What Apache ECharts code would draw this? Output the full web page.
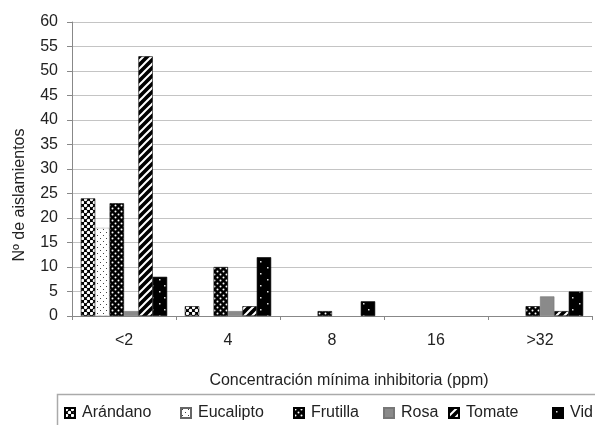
<!DOCTYPE html>
<html>
<head>
<meta charset="utf-8">
<script src="https://cdn.jsdelivr.net/npm/echarts@6/dist/echarts.min.js"></script>
<style>html,body{margin:0;padding:0;background:#fff}#c{width:595px;height:425px}</style>
</head>
<body>
<div id="c"></div>
<script>
const categories = ['<2', '4', '8', '16', '>32'];
const seriesNames = ['Arándano', 'Eucalipto', 'Frutilla', 'Rosa', 'Tomate', 'Vid'];
const arandano = [24, 2, 0, 0, 0];
const eucalipto = [18, 0, 0, 0, 0];
const frutilla = [23, 10, 1, 0, 2];
const rosa = [1, 1, 0, 0, 4];
const tomate = [53, 2, 0, 0, 1];
const vid = [8, 12, 3, 0, 5];
const yTicks = { min: 0, max: 60, interval: 5 };
const xAxisTitle = 'Concentración mínima inhibitoria (ppm)';
const yAxisTitle = 'Nº de aislamientos';

const FONT = '"Liberation Sans", Arial, sans-serif';

function tile(w, h, draw) {
  const c = document.createElement('canvas');
  c.width = w; c.height = h;
  const g = c.getContext('2d');
  draw(g, w, h);
  return { image: c, repeat: 'repeat' };
}
function dot(g, x, y, r) { g.beginPath(); g.arc(x, y, r, 0, Math.PI * 2); g.fill(); }

const patArandano = tile(6, 6, (g) => {
  g.fillStyle = '#000'; g.fillRect(0, 0, 6, 6);
  g.fillStyle = '#fff'; dot(g, 1.5, 1.5, 1.7); dot(g, 4.5, 4.5, 1.7);
});
const patEucalipto = tile(6, 6, (g) => {
  g.fillStyle = '#fff'; g.fillRect(0, 0, 6, 6);
  g.fillStyle = '#444'; g.fillRect(1, 1, 1, 1); g.fillRect(4, 4, 1, 1);
});
const patFrutilla = tile(6, 6, (g) => {
  g.fillStyle = '#000'; g.fillRect(0, 0, 6, 6);
  g.fillStyle = '#fff'; dot(g, 1.5, 1.5, 1.0); dot(g, 4.5, 4.5, 1.0);
});
const patRosa = '#8a8a8a';
const patTomate = tile(8, 8, (g) => {
  g.fillStyle = '#000'; g.fillRect(0, 0, 8, 8);
  g.strokeStyle = '#fff'; g.lineWidth = 2;
  g.beginPath();
  g.moveTo(-2, 10); g.lineTo(10, -2);
  g.moveTo(-6, 6); g.lineTo(6, -6);
  g.moveTo(2, 14); g.lineTo(14, 2);
  g.stroke();
});
const patVid = tile(12, 12, (g) => {
  g.fillStyle = '#000'; g.fillRect(0, 0, 12, 12);
  g.fillStyle = '#ddd'; g.fillRect(3, 3, 1.5, 1.5); g.fillRect(8, 9, 1.5, 1.5);
});

const dataSets = [arandano, eucalipto, frutilla, rosa, tomate, vid];
const fills = [patArandano, patEucalipto, patFrutilla, patRosa, patTomate, patVid];
const borders = ['#000', '#666', '#000', '#777', '#000', '#000'];
const borderTypes = ['solid', 'dotted', 'solid', 'solid', 'solid', 'solid'];
const legendLeft = [64, 180, 293, 383, 448, 552];

const chart = echarts.init(document.getElementById('c'), null, { renderer: 'canvas' });
chart.setOption({
  animation: false,
  backgroundColor: '#fff',
  textStyle: { fontFamily: FONT },
  grid: { left: 72, top: 22, width: 520, height: 294, containLabel: false },
  xAxis: {
    type: 'category',
    data: categories,
    boundaryGap: true,
    axisLine: { lineStyle: { color: '#888', width: 1 } },
    axisTick: { show: true, length: 4, lineStyle: { color: '#888' } },
    axisLabel: { fontSize: 16, color: '#222', margin: 17, fontFamily: FONT },
    splitLine: { show: false }
  },
  yAxis: {
    type: 'value',
    min: yTicks.min, max: yTicks.max, interval: yTicks.interval,
    axisLine: { show: true, lineStyle: { color: '#888', width: 1 } },
    axisTick: { show: true, length: 5, lineStyle: { color: '#888' } },
    axisLabel: { fontSize: 16, color: '#222', margin: 14, fontFamily: FONT },
    splitLine: { show: true, lineStyle: { color: '#c4c4c4', width: 1 } }
  },
  legend: seriesNames.map((n, i) => ({
    data: [n], left: legendLeft[i], top: 405, padding: 0,
    itemWidth: 10, itemHeight: 10, itemGap: 0, icon: 'rect', selectedMode: false,
    textStyle: { fontSize: 16, color: '#222', fontFamily: FONT, padding: [0, 0, 0, 2] }
  })),
  graphic: [
    { type: 'rect', shape: { x: 57.5, y: 394.5, width: 560, height: 60 },
      style: { fill: 'none', stroke: '#aaa', lineWidth: 1.5 }, z: 0 },
    { type: 'text', x: 349, y: 381, style: { text: xAxisTitle, font: '16px ' + FONT, fill: '#222', textAlign: 'center', textVerticalAlign: 'middle' } },
    { type: 'text', x: 20, y: 195, rotation: Math.PI / 2, style: { text: yAxisTitle, font: '16px ' + FONT, fill: '#222', textAlign: 'center', textVerticalAlign: 'middle' } }
  ],
  series: seriesNames.map((n, i) => ({
    name: n, type: 'bar',
    data: dataSets[i].map(v => (v === 0 ? '-' : v)),
    barGap: '0%', barCategoryGap: '17%',
    itemStyle: { color: fills[i], borderColor: borders[i], borderWidth: 0.6, borderType: borderTypes[i] }
  }))
});
</script>
</body>
</html>
